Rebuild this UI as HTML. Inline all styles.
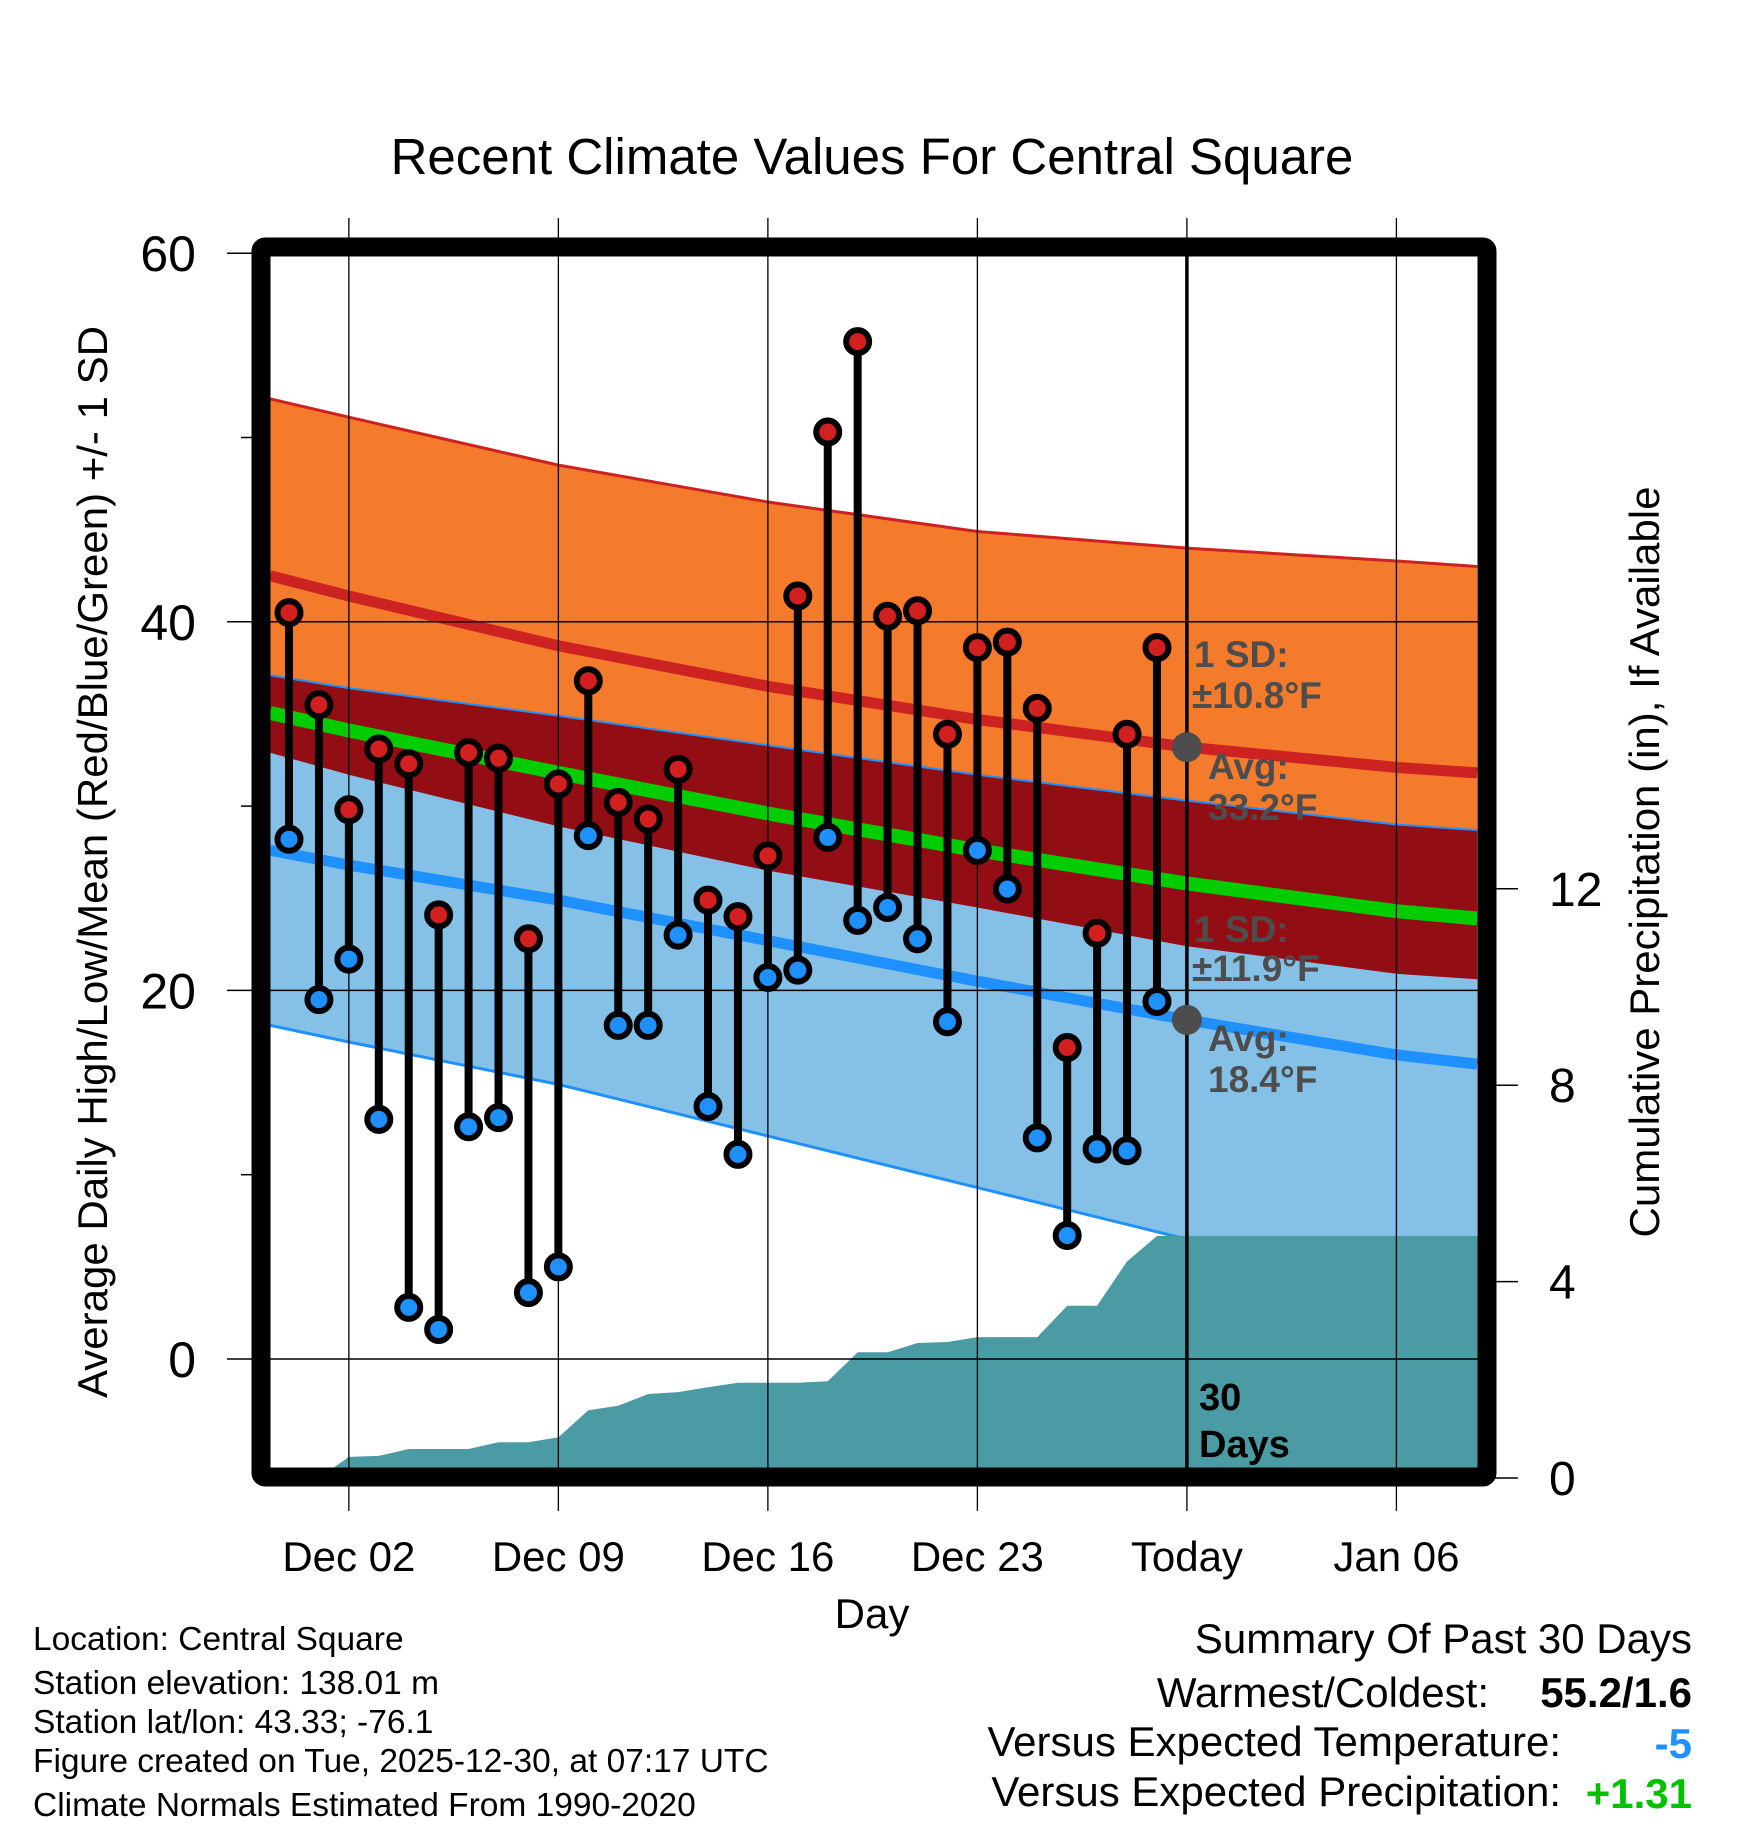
<!DOCTYPE html>
<html><head><meta charset="utf-8"><style>
html,body{margin:0;padding:0;background:#fff;}
svg{display:block;font-family:"Liberation Sans",sans-serif;}
</style></head><body>
<svg id="chart" width="1748" height="1828" viewBox="0 0 1748 1828" xmlns="http://www.w3.org/2000/svg">
<text x="872" y="174" font-size="51" text-anchor="middle">Recent Climate Values For Central Square</text>
<g id="plot"></g>
<text transform="translate(107,862) rotate(-90)" font-size="42" text-anchor="middle">Average Daily High/Low/Mean (Red/Blue/Green) +/- 1 SD</text>
<text transform="translate(1659,862) rotate(-90)" font-size="42" text-anchor="middle">Cumulative Precipitation (in), If Available</text>
<text x="872" y="1628" font-size="42" text-anchor="middle">Day</text>
<g font-size="33.5">
<text x="33" y="1650">Location: Central Square</text>
<text x="33" y="1694">Station elevation: 138.01 m</text>
<text x="33" y="1733">Station lat/lon: 43.33; -76.1</text>
<text x="33" y="1772">Figure created on Tue, 2025-12-30, at 07:17 UTC</text>
<text x="33" y="1816">Climate Normals Estimated From 1990-2020</text>
</g>
<g font-size="42">
<text x="1692" y="1653" text-anchor="end">Summary Of Past 30 Days</text>
<text x="1489" y="1707" text-anchor="end">Warmest/Coldest:</text>
<text x="1692" y="1707" text-anchor="end" font-weight="bold">55.2/1.6</text>
<text x="1561" y="1756" text-anchor="end">Versus Expected Temperature:</text>
<text x="1692" y="1758" text-anchor="end" font-weight="bold" fill="#1e90ff">-5</text>
<text x="1561" y="1806" text-anchor="end">Versus Expected Precipitation:</text>
<text x="1692" y="1808" text-anchor="end" font-weight="bold" fill="#00c000">+1.31</text>
</g>
</svg>
<script>
// ---- data ----
const highs = [40.5,35.5,29.8,33.1,32.3,24.1,32.9,32.6,22.8,31.2,36.8,30.2,29.3,32.0,24.9,24.0,27.3,41.4,50.3,55.2,40.3,40.6,33.9,38.6,38.9,35.3,16.9,23.1,33.9,38.6];
const lows  = [28.2,19.5,21.7,13.0,2.8,1.6,12.6,13.1,3.6,5.0,28.4,18.1,18.1,23.0,13.7,11.1,20.7,21.1,28.3,23.8,24.5,22.8,18.3,27.6,25.5,12.0,6.7,11.4,11.3,19.4];
const precip = [0,0,0.43,0.45,0.59,0.59,0.59,0.73,0.73,0.83,1.38,1.47,1.71,1.75,1.85,1.94,1.94,1.94,1.97,2.56,2.56,2.75,2.77,2.87,2.87,2.87,3.51,3.51,4.41,4.93];
const normDays = [-0.63,2,9,16,23,30,37,39.7];
const highMean = [42.5,41.4,38.7,36.5,34.7,33.2,32.1,31.8];
const highSD   = [9.6,9.7,9.8,10.0,10.2,10.8,11.2,11.2];
const lowMean  = [27.6,26.8,24.9,22.7,20.5,18.4,16.5,16.0];
const lowSD    = [9.5,9.6,10.0,10.6,11.2,11.9,12.5,12.7];
const xTickDays = [2,9,16,23,30,37];
const xTickLabels = ["Dec 02","Dec 09","Dec 16","Dec 23","Today","Jan 06"];
const yTicks = [0,20,40,60];
const yMinor = [10,30,50];
const y2Ticks = [0,4,8,12];

// ---- axes ----
const L=270,R=1478,T=256,B=1468;
const x = t => 289 + t*29.93;
const y = v => 1359 - v*18.43;
const y2 = p => 1478 - p*49.1;
const NS="http://www.w3.org/2000/svg";
const g=document.getElementById('plot');
function mk(tag,attrs,parent){const e=document.createElementNS(NS,tag);for(const k in attrs)e.setAttribute(k,attrs[k]);(parent||g).appendChild(e);return e;}
const defs=mk('defs',{});
const cp=mk('clipPath',{id:'clip'},defs);mk('rect',{x:L,y:T,width:R-L,height:B-T},cp);
const inner=mk('g',{'clip-path':'url(#clip)'});


function line(arr){return arr.map((v,i)=>x(normDays[i]).toFixed(1)+','+y(v).toFixed(1));}
function band(top,bot){return line(top).concat(line(bot).reverse()).join(' ');}
const hTop=highMean.map((m,i)=>m+highSD[i]), hBot=highMean.map((m,i)=>m-highSD[i]);
const lTop=lowMean.map((m,i)=>m+lowSD[i]), lBot=lowMean.map((m,i)=>m-lowSD[i]);
const ovBot=hBot.map((v,i)=>Math.max(v,lBot[i]));
let e;
e=mk('polygon',{points:band(hTop,hBot),fill:'#f47a2c'},inner);


e=mk('polygon',{points:band(lTop,lBot),fill:'#85c1e6'},inner);


e=mk('polygon',{points:band(lTop,ovBot),fill:'#930e14'},inner);


e=mk('polyline',{points:line(hTop).join(' '),fill:'none',stroke:'#cd2222','stroke-width':3},inner);


e=mk('polyline',{points:line(lTop).join(' '),fill:'none',stroke:'#1e90ff','stroke-width':2},inner);


e=mk('polyline',{points:line(lBot).join(' '),fill:'none',stroke:'#1e90ff','stroke-width':3},inner);


e=mk('polyline',{points:line(highMean).join(' '),fill:'none',stroke:'#cd2222','stroke-width':11},inner);


e=mk('polyline',{points:line(lowMean).join(' '),fill:'none',stroke:'#1e90ff','stroke-width':11},inner);


const mean=highMean.map((h,i)=>(h+lowMean[i])/2);
e=mk('polyline',{points:line(mean).join(' '),fill:'none',stroke:'#00cc00','stroke-width':14},inner);


// grid
xTickDays.forEach((d,i)=>{
  e=mk('line',{x1:x(d),x2:x(d),y1:218,y2:1511,stroke:'#000','stroke-width':1.3});
  
  
  e=mk('text',{x:x(d),y:1571,'font-size':42,'text-anchor':'middle'});
  e.textContent=xTickLabels[i];
  
  
});
yTicks.forEach(v=>{
  e=mk('line',{x1:227,x2:R,y1:y(v),y2:y(v),stroke:'#000','stroke-width':1.5});
  
  
  e=mk('text',{x:196,y:y(v)+18,'font-size':50,'text-anchor':'end'});
  e.textContent=v;
  
  
});
yMinor.forEach(v=>{
  e=mk('line',{x1:241,x2:256,y1:y(v),y2:y(v),stroke:'#000','stroke-width':1.5});
  
  
});
y2Ticks.forEach(p=>{
  e=mk('line',{x1:1490,x2:1518,y1:y2(p),y2:y2(p),stroke:'#000','stroke-width':1.5});
  
  
  e=mk('text',{x:1549,y:y2(p)+17,'font-size':48});
  e.textContent=p;
  
  
});
// precipitation
let pts=[x(0)+','+B];
precip.forEach((p,i)=>pts.push(x(i).toFixed(1)+','+y2(p).toFixed(1)));
pts.push(R+','+y2(precip[precip.length-1]).toFixed(1));pts.push(R+','+B);
e=mk('polygon',{points:pts.join(' '),fill:'#4a9ba3'},inner);


// today line
e=mk('line',{x1:x(30),x2:x(30),y1:T,y2:B,stroke:'#000','stroke-width':3.5});


// stems & dots
highs.forEach((h,i)=>{
  e=mk('line',{x1:x(i),x2:x(i),y1:y(h),y2:y(lows[i]),stroke:'#000','stroke-width':8});
  
  
});
highs.forEach((h,i)=>{
  e=mk('circle',{cx:x(i),cy:y(h),r:11.5,fill:'#d22020',stroke:'#000','stroke-width':6});
  
  
  e=mk('circle',{cx:x(i),cy:y(lows[i]),r:11.5,fill:'#1e90ff',stroke:'#000','stroke-width':6});
  
  
});
// normal markers
[highMean[5],lowMean[5]].forEach(v=>{
  e=mk('circle',{cx:x(30),cy:y(v),r:15,fill:'#4d4d4d'});
  
  
});
const ann=[["1 SD:",1194,667],["±10.8°F",1192,708],["Avg:",1208,779],["33.2°F",1208,820],["1 SD:",1194,942],["±11.9°F",1192,981],["Avg:",1208,1051],["18.4°F",1208,1092]];
ann.forEach(a=>{
  e=mk('text',{x:a[1],y:a[2],'font-size':37,'font-weight':'bold',fill:'#4d4d4d'});
  e.textContent=a[0];
  
  
});
[["30",1410],["Days",1457]].forEach(a=>{
  e=mk('text',{x:1199,y:a[1],'font-size':38,'font-weight':'bold'});
  e.textContent=a[0];
  
  
});
// frame
e=mk('rect',{x:L-9,y:T-9,width:R-L+18,height:B-T+18,fill:'none',stroke:'#000','stroke-width':19,rx:4});


</script>
</body></html>
